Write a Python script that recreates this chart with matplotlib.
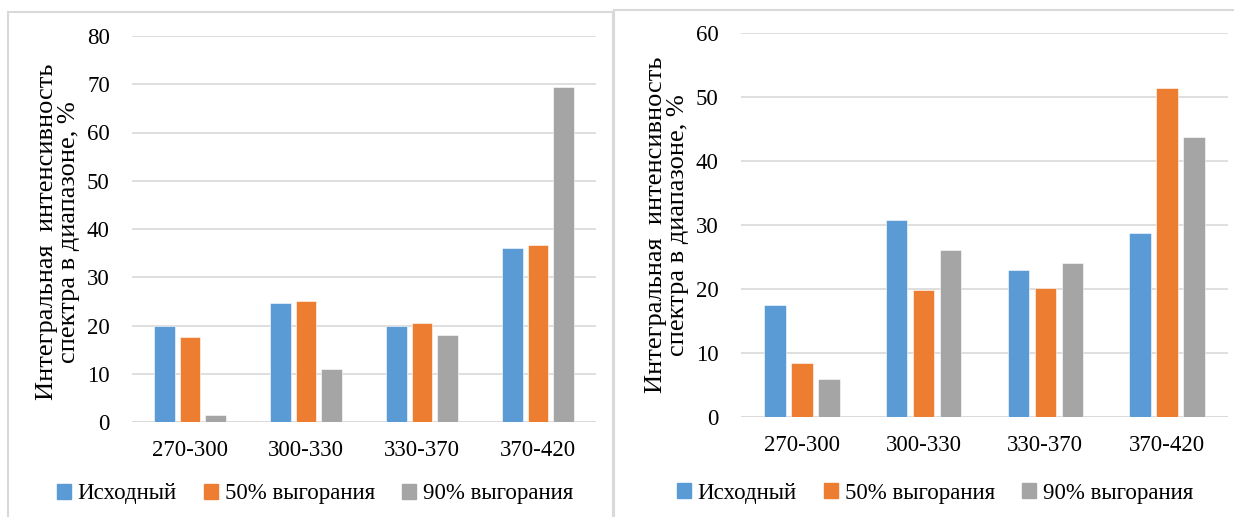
import matplotlib.pyplot as plt
import matplotlib.patches as mpatches
import numpy as np

plt.rcParams['font.family'] = ['Liberation Serif', 'DejaVu Serif']

categories = ['270-300', '300-330', '330-370', '370-420']
series_names = ['Исходный', '50% выгорания', '90% выгорания']
colors = ['#5B9BD5', '#ED7D31', '#A5A5A5']

# left panel
left_initial = [19.8, 24.7, 19.8, 36.0]
left_burn50 = [17.6, 25.0, 20.6, 36.7]
left_burn90 = [1.4, 11.0, 18.1, 69.4]

# right panel
right_initial = [17.5, 30.8, 22.9, 28.7]
right_burn50 = [8.4, 19.9, 20.2, 51.4]
right_burn90 = [6.0, 26.1, 24.0, 43.7]

W, H = 1234, 517
fig = plt.figure(figsize=(W / 100, H / 100), dpi=100)


def px_axes(x0, y_top, x1, y_bot):
    return fig.add_axes([x0 / W, 1 - y_bot / H, (x1 - x0) / W, (y_bot - y_top) / H])


def draw_panel(ax, data, ymax, ylabel_x, ylabel_y, legend_x, legend_y):
    x = np.arange(len(categories))
    width = 0.178
    step = 0.222
    for k, (vals, name, c) in enumerate(zip(data, series_names, colors)):
        ax.bar(x + (k - 1) * step, vals, width, color=c, label=name,
               edgecolor='white', linewidth=0.4, zorder=3)
    ax.set_xlim(-0.5, len(categories) - 0.5)
    ax.set_ylim(0, ymax)
    ax.set_yticks(np.arange(0, ymax + 1, 10))
    ax.set_xticks(x)
    ax.set_xticklabels(categories)
    ax.tick_params(axis='both', length=0, labelsize=16.5, colors='black')
    ax.tick_params(axis='x', pad=13)
    ax.tick_params(axis='y', pad=16)
    ax.grid(axis='y', color='#d9d9d9', linewidth=1.2, zorder=0)
    for s in ax.spines.values():
        s.set_visible(False)
    ax.axhline(0, color='#d9d9d9', linewidth=1.2, zorder=1)
    fig.text(ylabel_x / W, 1 - ylabel_y / H,
             'Интегральная  интенсивность\nспектра в диапазоне, %',
             rotation=90, ha='center', va='center', fontsize=19,
             linespacing=0.95, multialignment='center')
    handles = [mpatches.Patch(color=c) for c in colors]
    fig.legend(handles, series_names, loc='center',
               bbox_to_anchor=(legend_x / W, 1 - legend_y / H),
               ncol=3, frameon=False, fontsize=16.5, handlelength=0.6,
               handleheight=0.6, handletextpad=0.3, columnspacing=1.2)


ax1 = px_axes(132, 36, 596, 422)
draw_panel(ax1, [left_initial, left_burn50, left_burn90], 80, 58, 232, 315, 494)

ax2 = px_axes(741, 33, 1228, 417)
draw_panel(ax2, [right_initial, right_burn50, right_burn90], 60, 667, 225, 935, 493)

# panel frames
fig.patches.append(mpatches.Rectangle((8 / W, -0.1), (613 - 8) / W, 1.1 - 12 / H,
                                      transform=fig.transFigure, fill=False,
                                      edgecolor='#d9d9d9', linewidth=1.5))
fig.patches.append(mpatches.Rectangle((614 / W, -0.1), 0.6, 1.1 - 10 / H,
                                      transform=fig.transFigure, fill=False,
                                      edgecolor='#d9d9d9', linewidth=1.5))

fig.savefig('out.png', dpi=100)
